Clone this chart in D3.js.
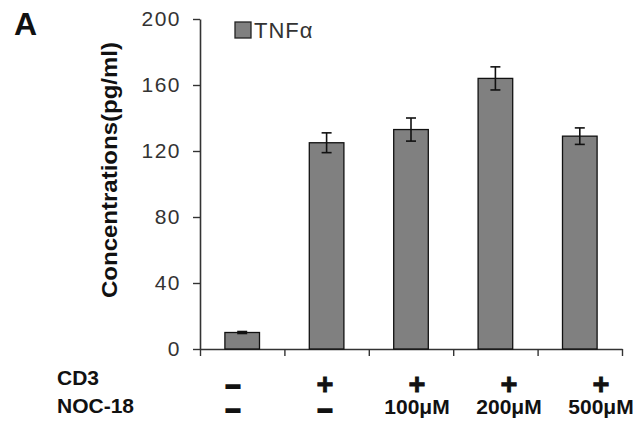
<!DOCTYPE html>
<html>
<head>
<meta charset="utf-8">
<script src="https://cdn.jsdelivr.net/npm/d3@7"></script>
<style>
  body { margin: 0; background: #fff; }
  svg { display: block; font-family: "Liberation Sans", Arial, sans-serif; }
</style>
</head>
<body>
<svg id="chart" width="641" height="426"></svg>
<script>
const groups = ["g1", "g2", "g3", "g4", "g5"];
const tnfValues = [10, 125, 133, 164, 129];
const tnfErrors = [0.6, 6, 7, 7, 5];
const yTicks = [0, 40, 80, 120, 160, 200];
const cd3Labels = ["-", "+", "+", "+", "+"];
const nocLabels = ["-", "-", "100\u03bcM", "200\u03bcM", "500\u03bcM"];

const margin = { top: 19, right: 19, bottom: 77, left: 200 };
const width = 641, height = 426;

const svg = d3.select("#chart");

const y = d3.scaleLinear()
  .domain([0, 200])
  .range([height - margin.bottom, margin.top]);

const x = d3.scaleBand()
  .domain(groups)
  .range([margin.left, width - margin.right])
  .paddingInner(0.59)
  .paddingOuter(0.295);

// tick marks sit on the category boundaries
const xEdge = d3.scaleLinear()
  .domain([0, groups.length])
  .range(x.range());

// column labels under the axis drift a bit right of the bars
const xLabel = d3.scalePoint()
  .domain(groups)
  .range([233, 601]);

const axisColor = "#333";

// y axis
svg.append("g")
  .attr("transform", `translate(${margin.left},0)`)
  .call(d3.axisLeft(y).tickValues(yTicks).tickSize(7).tickSizeOuter(0).tickPadding(12))
  .call(g => g.select(".domain").attr("stroke", axisColor).attr("stroke-width", 1.6))
  .call(g => g.selectAll(".tick line").attr("stroke", axisColor).attr("stroke-width", 1.4))
  .call(g => g.selectAll(".tick text")
    .attr("fill", "#333")
    .attr("font-size", 21)
    .attr("letter-spacing", 1.5)
    .attr("font-family", "Liberation Sans, Arial, sans-serif"));

// x axis
svg.append("g")
  .attr("transform", `translate(0,${y(0)})`)
  .call(d3.axisBottom(xEdge).tickValues(d3.range(groups.length + 1)).tickFormat("").tickSize(7).tickSizeOuter(0))
  .call(g => g.select(".domain").attr("stroke", axisColor).attr("stroke-width", 1.6))
  .call(g => g.selectAll(".tick line").attr("stroke", axisColor).attr("stroke-width", 1.4));

// bars
svg.append("g")
  .selectAll("rect")
  .data(groups)
  .join("rect")
  .attr("x", d => x(d))
  .attr("width", x.bandwidth())
  .attr("y", (d, i) => y(tnfValues[i]))
  .attr("height", (d, i) => y(0) - y(tnfValues[i]))
  .attr("fill", "#808080")
  .attr("stroke", "#111")
  .attr("stroke-width", 1.3);

// error bars
const err = svg.append("g")
  .attr("stroke", "#111")
  .attr("stroke-width", 1.6)
  .selectAll("g")
  .data(groups)
  .join("g")
  .attr("transform", d => `translate(${x(d) + x.bandwidth() / 2},0)`);

err.append("line")
  .attr("y1", (d, i) => y(tnfValues[i] + tnfErrors[i]))
  .attr("y2", (d, i) => y(tnfValues[i] - tnfErrors[i]));

err.selectAll(".cap")
  .data((d, i) => [tnfValues[i] + tnfErrors[i], tnfValues[i] - tnfErrors[i]])
  .join("line")
  .attr("class", "cap")
  .attr("x1", -5).attr("x2", 5)
  .attr("y1", v => y(v)).attr("y2", v => y(v));

// y label
svg.append("text")
  .attr("transform", `translate(117,${(42 + 298) / 2}) rotate(-90)`)
  .attr("text-anchor", "middle")
  .attr("font-weight", "bold")
  .attr("font-size", 22)
  .attr("textLength", 256)
  .attr("lengthAdjust", "spacingAndGlyphs")
  .attr("fill", "#111")
  .text("Concentrations(pg/ml)");

// legend
const legend = svg.append("g").attr("transform", "translate(235,22)");
legend.append("rect")
  .attr("width", 16).attr("height", 16)
  .attr("fill", "#808080")
  .attr("stroke", "#222")
  .attr("stroke-width", 1.3);
legend.append("text")
  .attr("x", 19).attr("y", 16)
  .attr("font-size", 22)
  .attr("letter-spacing", 1)
  .attr("fill", "#333")
  .text("TNF\u03b1");

// panel letter
svg.append("text")
  .attr("x", 14).attr("y", 35)
  .attr("font-size", 32)
  .attr("font-weight", "bold")
  .attr("fill", "#111")
  .text("A");

// row titles
const rowTitles = svg.append("g")
  .attr("font-weight", "bold")
  .attr("font-size", 21)
  .attr("fill", "#111");
rowTitles.append("text").attr("x", 57).attr("y", 385).text("CD3");
rowTitles.append("text").attr("x", 57).attr("y", 413).text("NOC-18");

// condition labels: big bold + and thick dashes, plain bold for doses
function labelRow(labels, baseline, dashBaseline) {
  svg.append("g")
    .selectAll("text")
    .data(groups)
    .join("text")
    .attr("x", d => xLabel(d))
    .attr("y", (d, i) => labels[i] === "-" ? dashBaseline : labels[i] === "+" ? baseline - 1 : baseline)
    .attr("text-anchor", "middle")
    .attr("font-weight", "bold")
    .attr("fill", "#111")
    .attr("font-size", (d, i) => labels[i] === "+" ? 29 : labels[i] === "-" ? 26 : 21)
    .attr("stroke", (d, i) => labels[i] === "-" ? "#111" : labels[i] === "+" ? "#111" : "none")
    .attr("stroke-width", (d, i) => labels[i] === "-" ? 2.2 : 0.8)
    .text((d, i) => labels[i] === "-" ? "\u2013" : labels[i]);
}

labelRow(cd3Labels, 395, 394);
labelRow(nocLabels, 414, 418);
</script>
</body>
</html>
